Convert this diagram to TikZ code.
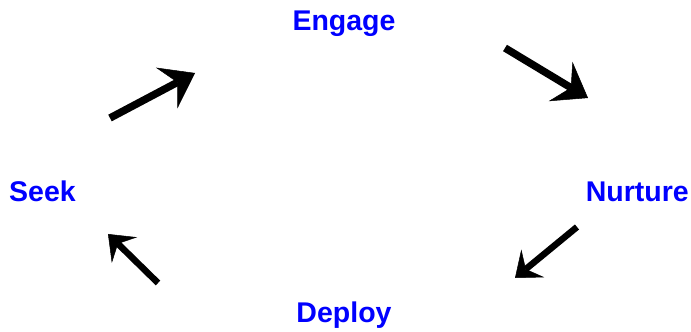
\documentclass[tikz,border=0pt]{standalone}
\usepackage{fontspec}
\setmainfont{Liberation Sans}
\usepackage{xcolor}
\usetikzlibrary{positioning,calc,arrows.meta}

\tikzset{
    stage/.style={text=blue, font=\bfseries\fontsize{28.5}{31}\selectfont, inner sep=0pt},
    bigflow/.style={line width=7.5pt, -{Stealth[length=32pt, width=46pt, inset=12pt, line width=0.5pt]}},
    smallflow/.style={line width=6.5pt, -{Stealth[length=23pt, width=36pt, inset=9pt, line width=0.5pt]}}
}

\begin{document}
\begin{tikzpicture}[x=1pt, y=1pt]
    \useasboundingbox (0,0) rectangle (691,332);

    % the four stages
    \node [stage, anchor=base] (Engage) at (344,301) {Engage};
    \node [stage, anchor=base east] (Nurture) at (689,130) {Nurture};
    \node [stage, anchor=base] (Deploy) at (344,9) {Deploy};
    \node [stage, anchor=base west] (Seek) at (9,130) {Seek};

    % arrow ends
    \coordinate (SE1) at (110,214);
    \coordinate (SE2) at (195,259);
    \coordinate (EN1) at (505,284);
    \coordinate (EN2) at (588,234);
    \coordinate (ND1) at (577,105);
    \coordinate (ND2) at (515,54);
    \coordinate (DS1) at (158,49);
    \coordinate (DS2) at (108,98);

    \draw [bigflow] (SE1) -- (SE2);
    \draw [bigflow] (EN1) -- (EN2);
    \draw [smallflow] (ND1) -- (ND2);
    \draw [smallflow] (DS1) -- (DS2);
\end{tikzpicture}
\end{document}
